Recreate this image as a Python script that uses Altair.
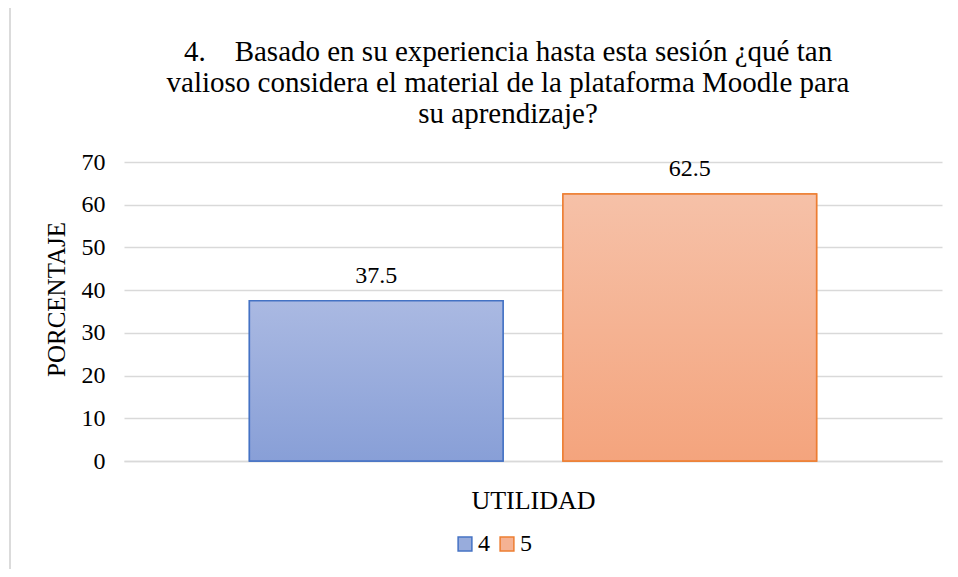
import altair as alt
import pandas as pd

series = ["4", "5"]
values = [37.5, 62.5]
category = "UTILIDAD"
title_lines = [
    "4.\u00a0\u00a0\u00a0 Basado en su experiencia hasta esta sesión ¿qué tan",
    "valioso considera el material de la plataforma Moodle para",
    "su aprendizaje?",
]
y_ticks = [0, 10, 20, 30, 40, 50, 60, 70]

fills = ["#98acdc", "#f5b293"]
strokes = ["#4472c4", "#ed7d31"]
grad_top = ["#aab9e2", "#f6c1a8"]
grad_bot = ["#889fd7", "#f4a47d"]

df = pd.DataFrame({"serie": series, "valor": values, "cat": [category] * 2})

FONT = "Times New Roman, Liberation Serif, serif"

xenc = alt.X(
    "serie:N",
    sort=series,
    scale=alt.Scale(paddingInner=0.191, paddingOuter=0.4),
    axis=alt.Axis(
        title=category, labels=False, ticks=False, domainColor="#d9d9d9",
        domainWidth=1.5, titleFont=FONT, titleFontSize=26, titleFontWeight="normal",
        titleColor="#000000", titleY=39, titleBaseline="middle",
    ),
)
yenc = alt.Y(
    "valor:Q",
    scale=alt.Scale(domain=[0, 70]),
    axis=alt.Axis(
        title="PORCENTAJE", values=y_ticks, domain=False, ticks=False,
        gridColor="#d9d9d9", gridWidth=1.5, labelFont=FONT, labelFontSize=24,
        labelColor="#000000", labelPadding=19, titleFont=FONT, titleFontSize=25,
        titleFontWeight="normal", titleColor="#000000", titleX=-68, titleY=137,
        titleBaseline="middle", titleAngle=270,
    ),
)

base = alt.Chart(df)

legend_bars = base.mark_bar(strokeWidth=1.5).encode(
    x=xenc,
    y=yenc,
    fill=alt.Fill(
        "serie:N",
        scale=alt.Scale(domain=series, range=fills),
        legend=alt.Legend(
            title=None, orient="none", direction="horizontal", legendX=329,
            legendY=370, symbolType="square", symbolSize=190, symbolStrokeWidth=1.5,
            labelFont=FONT, labelFontSize=24, labelColor="#000000", labelOffset=1,
            columnPadding=5,
        ),
    ),
    stroke=alt.Stroke("serie:N", scale=alt.Scale(domain=series, range=strokes), legend=None),
)

layers = [legend_bars]
for s, top, bot, st in zip(series, grad_top, grad_bot, strokes):
    g = alt.Gradient(
        gradient="linear",
        stops=[alt.GradientStop(color=top, offset=0), alt.GradientStop(color=bot, offset=1)],
        x1=0, x2=0, y1=0, y2=1,
    )
    layers.append(
        base.transform_filter(alt.datum.serie == s)
        .mark_bar(fill=g, stroke=st, strokeWidth=1.5)
        .encode(x=xenc, y=yenc)
    )

labels = base.mark_text(font=FONT, fontSize=24, color="#000000", baseline="alphabetic", dy=-18).encode(
    x=xenc, y=yenc, text=alt.Text("valor:Q", format=".1f")
)

border = base.mark_rect(fill=None, stroke="#d9d9d9", strokeWidth=1.5).encode(
    x=alt.value(-114), x2=alt.value(900), y=alt.value(-155), y2=alt.value(500)
)

chart = (
    alt.layer(border, *layers, labels)
    .properties(
        width=818,
        height=299,
        padding={"left": 116, "top": 154, "right": 8, "bottom": 108},
        autosize=alt.AutoSizeParams(type="none"),
        title=alt.TitleParams(
            text=title_lines, font=FONT, fontSize=29, fontWeight="normal",
            color="#000000", lineHeight=31, anchor="middle", dx=-25, offset=0,
            dy=123,
        ),
    )
    .configure(font=FONT)
    .configure_view(stroke=None)
)

chart.save("out.html", embed_options={"renderer": "svg", "actions": False})
